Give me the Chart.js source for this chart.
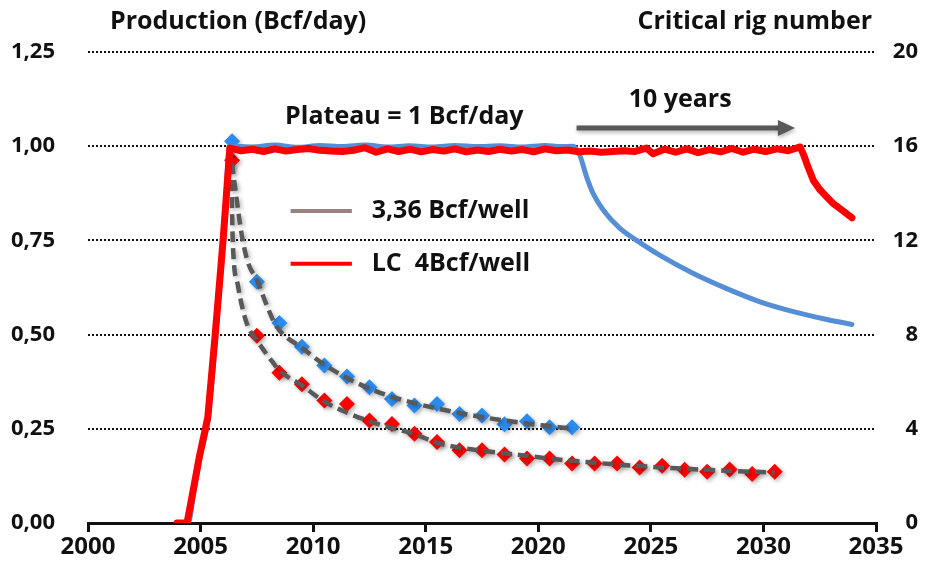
<!DOCTYPE html>
<html>
<head>
<meta charset="utf-8">
<script src="https://cdn.jsdelivr.net/npm/chart.js@4.4.1/dist/chart.umd.min.js"></script>
<style>
html, body { margin: 0; padding: 0; background: #fff; }
#wrap { width: 934px; height: 577px; }
</style>
</head>
<body>
<div id="wrap"><canvas id="prodChart"></canvas></div>
<script>
// Production, 3,36 Bcf/well case (blue line)
const blueYears = [2004.0, 2004.45, 2004.7, 2005.0, 2005.35, 2005.68, 2006.02, 2006.3,
    2007.3, 2008.3, 2009.3, 2010.3, 2011.3, 2012.3, 2013.3, 2014.3, 2015.3, 2016.3, 2017.3,
    2018.3, 2019.3, 2020.3, 2021.0, 2021.56,
    2021.85, 2022.15, 2022.44, 2022.89, 2023.63, 2024.37, 2025.41, 2026.89, 2028.37, 2029.85,
    2031.33, 2032.82, 2033.93];
const blueProd = [0, 0, 0.08, 0.18, 0.28, 0.5, 0.75, 1.0,
    0.998, 1.003, 0.997, 1.002, 0.999, 1.003, 0.998, 1.001, 0.998, 1.002, 0.999,
    1.001, 0.998, 1.002, 0.999, 1.0,
    0.975, 0.918, 0.874, 0.83, 0.782, 0.75, 0.71, 0.662, 0.622, 0.587,
    0.561, 0.54, 0.527];

// Production, LC 4Bcf/well case (red line)
const redYears = [2003.95, 2004.4, 2004.65, 2004.96, 2005.32, 2005.65, 2006.0, 2006.3,
    2006.8, 2007.3, 2007.8, 2008.3, 2008.8, 2009.3, 2009.8, 2010.3, 2010.8, 2011.3,
    2011.8, 2012.3, 2012.8, 2013.3, 2013.8, 2014.3, 2014.8, 2015.3, 2015.8, 2016.3,
    2016.8, 2017.3, 2017.8, 2018.3, 2018.8, 2019.3, 2019.8, 2020.3, 2020.8, 2021.3,
    2021.8, 2022.3, 2022.8, 2023.3, 2023.8, 2024.3, 2024.8, 2025.1, 2025.6, 2026.1,
    2026.6, 2027.1, 2027.6, 2028.1, 2028.6, 2029.1, 2029.6, 2030.1, 2030.6, 2031.1, 2031.63,
    2031.8, 2031.93, 2032.22, 2032.5, 2032.82, 2033.1, 2033.41, 2033.93];
const redProd = [0, 0, 0.08, 0.18, 0.28, 0.5, 0.75, 0.995,
    0.988, 0.992, 0.986, 0.993, 0.987, 0.991, 0.994, 0.989, 0.987, 0.986,
    0.989, 0.996, 0.984, 0.993, 0.986, 0.992, 0.985, 0.991, 0.987, 0.993,
    0.985, 0.99, 0.986, 0.992, 0.987, 0.991, 0.985, 0.993, 0.988, 0.99,
    0.985, 0.987, 0.984, 0.986, 0.988, 0.986, 0.995, 0.98, 0.992, 0.984,
    0.993, 0.983, 0.991, 0.985, 0.994, 0.984, 0.992, 0.986, 0.993, 0.988, 0.998,
    0.975, 0.953, 0.909, 0.885, 0.865, 0.848, 0.834, 0.81];

// Single-well decline points
const blueDotYears = [2006.4, 2007.5, 2008.5, 2009.5, 2010.5, 2011.5, 2012.5, 2013.5,
    2014.5, 2015.5, 2016.5, 2017.5, 2018.5, 2019.5, 2020.5, 2021.5];
const blueDots = [1.013, 0.64, 0.531, 0.468, 0.418, 0.389, 0.36, 0.329,
    0.312, 0.316, 0.289, 0.285, 0.262, 0.27, 0.254, 0.254];

const redDotYears = [2006.4, 2007.5, 2008.5, 2009.5, 2010.5, 2011.5, 2012.5, 2013.5,
    2014.5, 2015.5, 2016.5, 2017.5, 2018.5, 2019.5, 2020.5, 2021.5, 2022.5, 2023.5,
    2024.5, 2025.5, 2026.5, 2027.5, 2028.5, 2029.5, 2030.5];
const redDots = [0.963, 0.497, 0.399, 0.368, 0.325, 0.316, 0.272, 0.263,
    0.237, 0.215, 0.193, 0.193, 0.182, 0.171, 0.171, 0.158, 0.158, 0.158,
    0.147, 0.152, 0.141, 0.136, 0.142, 0.13, 0.136];

// Fitted decline curves (grey dashed)
const blueFitYears = [2006.3, 2006.52, 2006.83, 2007.1, 2007.5, 2007.99, 2008.39, 2009.5,
    2010.5, 2011.5, 2012.5, 2013.5, 2014.5, 2015.5, 2016.5, 2017.5, 2018.5, 2019.5, 2020.5, 2021.5];
const blueFit = [1.0, 0.897, 0.764, 0.692, 0.645, 0.57, 0.52, 0.465,
    0.42, 0.385, 0.357, 0.335, 0.318, 0.304, 0.292, 0.281, 0.272, 0.264, 0.257, 0.25];

const redFitYears = [2006.3, 2006.39, 2006.43, 2006.66, 2007.05, 2007.5, 2008.16, 2008.5,
    2009.5, 2010.5, 2011.5, 2012.5, 2013.5, 2014.5, 2015.5, 2016.5, 2017.5, 2018.5,
    2019.5, 2020.5, 2021.5, 2022.5, 2023.5, 2024.5, 2025.5, 2026.5, 2027.5, 2028.5, 2029.5, 2030.5];
const redFit = [1.0, 0.85, 0.745, 0.63, 0.53, 0.485, 0.43, 0.405,
    0.365, 0.322, 0.293, 0.27, 0.252, 0.236, 0.213, 0.2, 0.192, 0.185,
    0.178, 0.171, 0.165, 0.16, 0.155, 0.151, 0.147, 0.144, 0.141, 0.138, 0.136, 0.134];

const legendLabels = ['3,36 Bcf/well', 'LC  4Bcf/well'];
const legendColors = ['#9b8080', '#ff0000'];

const FONT = '"Open Sans", "DejaVu Sans", sans-serif';

const toXY = (xs, ys) => xs.map((v, i) => ({ x: v, y: ys[i] }));

// soft shadow on markers and dashed fits
const shadowPlugin = {
    id: 'shadow',
    beforeDatasetDraw(chart, args) {
        const ds = chart.data.datasets[args.index];
        chart.ctx.save();
        if (ds.shadow) {
            chart.ctx.shadowColor = 'rgba(0,0,0,0.3)';
            chart.ctx.shadowBlur = 4;
            chart.ctx.shadowOffsetX = 2;
            chart.ctx.shadowOffsetY = 2;
        }
    },
    afterDatasetDraw(chart) {
        chart.ctx.restore();
    }
};

// titles, annotations, arrow and in-plot legend
const notesPlugin = {
    id: 'notes',
    afterDatasetsDraw(chart) {
        const { ctx, scales: { x, y } } = chart;
        ctx.save();
        ctx.fillStyle = '#111';
        ctx.font = 'bold 25px ' + FONT;
        ctx.textBaseline = 'middle';

        ctx.textAlign = 'left';
        ctx.fillText('Production (Bcf/day)', 110, 22);
        ctx.textAlign = 'right';
        ctx.fillText('Critical rig number', 872, 22);

        ctx.textAlign = 'center';
        ctx.fillText('Plateau = 1 Bcf/day', x.getPixelForValue(2014.05), y.getPixelForValue(1.077));
        ctx.fillText('10 years', x.getPixelForValue(2026.3), y.getPixelForValue(1.122));

        // arrow
        const ax0 = x.getPixelForValue(2021.7);
        const ax1 = x.getPixelForValue(2031.4);
        const ay = y.getPixelForValue(1.048);
        ctx.save();
        ctx.shadowColor = 'rgba(0,0,0,0.3)';
        ctx.shadowBlur = 4;
        ctx.shadowOffsetX = 1;
        ctx.shadowOffsetY = 2;
        ctx.strokeStyle = '#595959';
        ctx.fillStyle = '#595959';
        ctx.lineWidth = 5;
        ctx.beginPath();
        ctx.moveTo(ax0, ay);
        ctx.lineTo(ax1 - 14, ay);
        ctx.stroke();
        ctx.beginPath();
        ctx.moveTo(ax1, ay);
        ctx.lineTo(ax1 - 17, ay - 8);
        ctx.lineTo(ax1 - 17, ay + 8);
        ctx.closePath();
        ctx.fill();
        ctx.restore();

        // legend
        const lx0 = x.getPixelForValue(2009.0);
        const lx1 = x.getPixelForValue(2011.72);
        const tx = x.getPixelForValue(2012.6);
        const rows = [0.828, 0.688];
        ctx.textAlign = 'left';
        ctx.fillStyle = '#111';
        legendLabels.forEach((lab, i) => {
            const py = y.getPixelForValue(rows[i]);
            ctx.strokeStyle = legendColors[i];
            ctx.lineWidth = 4;
            ctx.beginPath();
            ctx.moveTo(lx0, py);
            ctx.lineTo(lx1, py);
            ctx.stroke();
            ctx.fillText(lab, tx, py);
        });
        ctx.restore();
    }
};

const tickFont = { family: FONT, size: 22, weight: 'bold' };

const ctx = document.getElementById('prodChart').getContext('2d');
new Chart(ctx, {
    type: 'scatter',
    data: {
        datasets: [
            {
                label: 'LC 4Bcf/well',
                data: toXY(redYears, redProd),
                showLine: true,
                borderColor: '#ff0000',
                borderWidth: 7,
                borderCapStyle: 'round',
                borderJoinStyle: 'round',
                pointRadius: 0,
                tension: 0,
                order: 0
            },
            {
                label: '3,36 Bcf/well',
                data: toXY(blueYears, blueProd),
                showLine: true,
                borderColor: '#558ed5',
                borderWidth: 5,
                borderCapStyle: 'round',
                pointRadius: 0,
                cubicInterpolationMode: 'monotone',
                order: 1
            },
            {
                label: 'fit 3,36',
                data: toXY(blueFitYears, blueFit),
                showLine: true,
                borderColor: '#595959',
                borderWidth: 4.5,
                borderDash: [11, 6],
                pointRadius: 0,
                cubicInterpolationMode: 'monotone',
                shadow: true,
                order: 2
            },
            {
                label: 'fit LC',
                data: toXY(redFitYears, redFit),
                showLine: true,
                borderColor: '#595959',
                borderWidth: 4.5,
                borderDash: [11, 6],
                pointRadius: 0,
                cubicInterpolationMode: 'monotone',
                shadow: true,
                order: 2
            },
            {
                label: 'well 3,36',
                data: toXY(blueDotYears, blueDots),
                pointStyle: 'rectRot',
                pointRadius: 8,
                pointBorderWidth: 0,
                pointBackgroundColor: '#2a8cf0',
                shadow: true,
                order: 3
            },
            {
                label: 'well LC',
                data: toXY(redDotYears, redDots),
                pointStyle: 'rectRot',
                pointRadius: 8,
                pointBorderWidth: 0,
                pointBackgroundColor: '#ff0000',
                shadow: true,
                order: 3
            }
        ]
    },
    options: {
        responsive: true,
        maintainAspectRatio: false,
        animation: false,
        layout: { padding: { top: 52, right: 16, left: 0, bottom: 0 } },
        plugins: {
            legend: { display: false },
            tooltip: { enabled: false }
        },
        scales: {
            x: {
                type: 'linear',
                position: 'bottom',
                min: 2000,
                max: 2035,
                ticks: {
                    stepSize: 5,
                    color: '#111',
                    font: { family: FONT, size: 24, weight: 'bold' },
                    padding: 1,
                    callback: (v) => String(v)
                },
                grid: {
                    drawOnChartArea: false,
                    drawTicks: true,
                    tickLength: 9,
                    color: '#111',
                    lineWidth: 3
                },
                border: { display: true, color: '#111', width: 3 },
                afterFit: (s) => { s.height = 54; }
            },
            y: {
                position: 'left',
                min: 0,
                max: 1.25,
                ticks: {
                    stepSize: 0.25,
                    color: '#111',
                    font: tickFont,
                    padding: 33,
                    callback: (v) => v.toFixed(2).replace('.', ',')
                },
                grid: {
                    drawTicks: false,
                    color: (c) => (c.tick && c.tick.value === 0 ? 'rgba(0,0,0,0)' : '#111'),
                    lineWidth: 2
                },
                border: { display: false, dash: [2, 2] },
                afterFit: (s) => { s.width = 88; }
            },
            y1: {
                position: 'right',
                min: 0,
                max: 20,
                ticks: {
                    stepSize: 4,
                    color: '#111',
                    crossAlign: 'far',
                    font: tickFont
                },
                grid: { display: false, drawTicks: false },
                border: { display: false },
                afterFit: (s) => { s.width = 42; }
            }
        }
    },
    plugins: [shadowPlugin, notesPlugin]
});
</script>
</body>
</html>
